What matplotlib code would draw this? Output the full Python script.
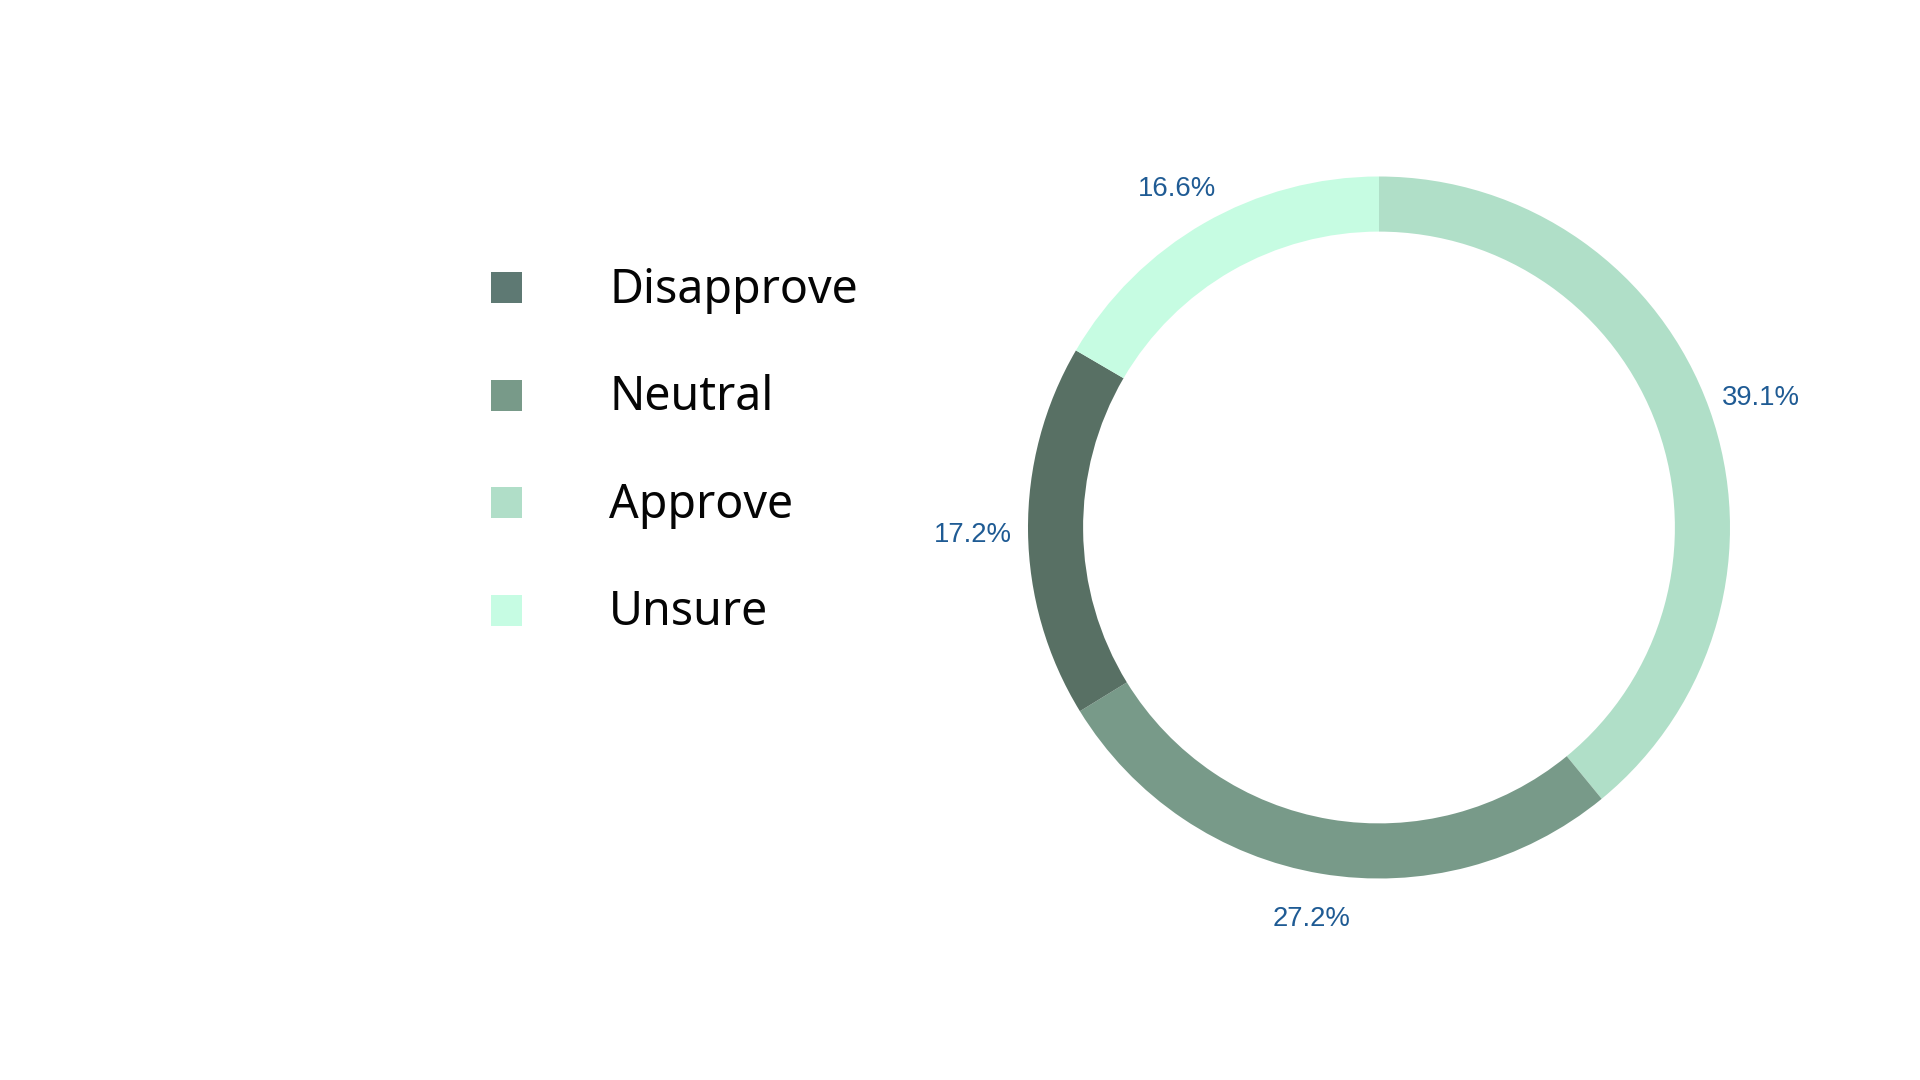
import matplotlib
matplotlib.use("Agg")
import matplotlib.pyplot as plt
from matplotlib.patches import Rectangle
import numpy as np

# Data
categories = ["Approve", "Neutral", "Disapprove", "Unsure"]
shares = [39.1, 27.2, 17.2, 16.6]
slice_colors = ["#b0dfc8", "#789a89", "#587064", "#c6fce2"]

legend_labels = ["Disapprove", "Neutral", "Approve", "Unsure"]
legend_colors = ["#5e7973", "#789a89", "#b0dec8", "#c6fce3"]

W, H = 1920, 1080
fig = plt.figure(figsize=(W / 100, H / 100), dpi=100)
fig.patch.set_facecolor("white")

# Donut axes: center (1379, 527.5) px from top-left, radius 351 px
R_px = 351
cx, cy = 1379, H - 527.5
half = 1.5 * R_px
ax = fig.add_axes([(cx - half) / W, (cy - half) / H, 2 * half / W, 2 * half / H])
wedges, _ = ax.pie(
    shares,
    colors=slice_colors,
    startangle=90,
    counterclock=False,
    radius=1.0,
    wedgeprops=dict(width=0.157, edgecolor="none", linewidth=0),
)
# outside percentage labels placed at the mid-angle of each wedge
kx, ky, dy = 1.157, 1.1225, -0.008
for w, v in zip(wedges, shares):
    mid = np.deg2rad((w.theta1 + w.theta2) / 2)
    ax.text(kx * np.cos(mid), ky * np.sin(mid) + dy, f"{v:.1f}%",
            ha="center", va="center", fontsize=19.8, color="#1f5b94",
            family="Liberation Sans")
ax.set_xlim(-1.5, 1.5)
ax.set_ylim(-1.5, 1.5)
ax.set_aspect("equal", adjustable="box")
ax.axis("off")

# Legend (manual, pixel coordinates)
lax = fig.add_axes([0, 0, 1, 1])
lax.set_xlim(0, W)
lax.set_ylim(H, 0)
lax.axis("off")
first_center = 287.5
step = 107.6
sq = 31
for i, (lab, col) in enumerate(zip(legend_labels, legend_colors)):
    yc = first_center + i * step
    lax.add_patch(Rectangle((491, yc - sq / 2), sq, sq, facecolor=col, edgecolor="none"))
    lax.text(609, yc + 15, lab, fontsize=33.5, family="Noto Sans", color="#050505",
             ha="left", va="baseline")

fig.savefig("out.png", dpi=100, facecolor="white")
